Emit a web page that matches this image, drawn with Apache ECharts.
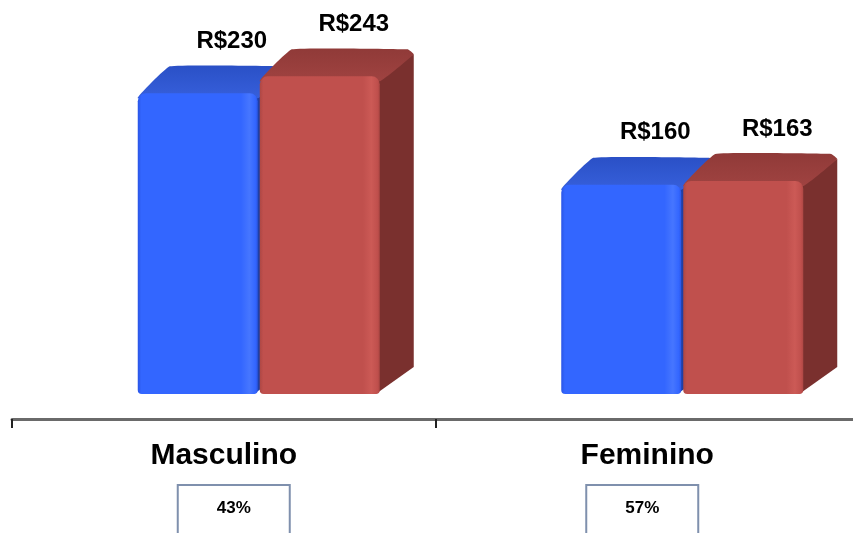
<!DOCTYPE html>
<html>
<head>
<meta charset="utf-8">
<script src="https://cdn.jsdelivr.net/npm/echarts@6/dist/echarts.min.js"></script>
<style>
  html, body { margin: 0; padding: 0; background: #ffffff; overflow: hidden; }
  /* canvas runs a little past the right edge so the axis continues off-page */
  #chart { width: 866px; height: 533px; }
</style>
</head>
<body>
<div id="chart"></div>
<script>
// Gasto médio por sexo
const categories = ['Masculino', 'Feminino'];
const seriesBlue = [230, 160];
const seriesRed = [243, 163];
const shares = ['43%', '57%'];

// 3D bar geometry (pixels)
const DEPTH_X = 34;
const DEPTH_Y = -27;
const FRONT_W = 120;
const barOffsets = [-86, 36];      // left edge of each series' front face, from category centre
const boxNudge = [10, -5];         // horizontal nudge of the share boxes

const palettes = [
  { front: '#3366ff', edgeDark: '#2a55e6', edgeLight: '#4676ff', top: '#2a50c6', topLight: '#3760dc', side: '#1f3fa6' },
  { front: '#c0504d', edgeDark: '#ad4744', edgeLight: '#cc5a56', top: '#903a38', topLight: '#a04341', side: '#7a302e' }
];

function bar3d(seriesIdx) {
  const pal = palettes[seriesIdx];
  return function (params, api) {
    const i = api.value(0);
    const v = api.value(1);
    const topPt = api.coord([i, v]);
    const basePt = api.coord([i, 0]);
    const x0 = topPt[0] + barOffsets[seriesIdx];
    const x1 = x0 + FRONT_W;
    const yT = topPt[1];
    const yB = basePt[1];
    const frontFill = new echarts.graphic.LinearGradient(0, 0, 1, 0, [
      { offset: 0, color: pal.edgeDark },
      { offset: 0.03, color: pal.front },
      { offset: 0.86, color: pal.front },
      { offset: 0.93, color: pal.edgeLight },
      { offset: 0.98, color: pal.front },
      { offset: 1, color: pal.edgeDark }
    ]);
    const topFill = new echarts.graphic.LinearGradient(0, 1, 0, 0, [
      { offset: 0, color: pal.topLight },
      { offset: 1, color: pal.top }
    ]);
    return {
      type: 'group',
      children: [
        {
          type: 'polygon',
          shape: { points: [[x1 - 4, yT], [x1 + DEPTH_X, yT + DEPTH_Y + 5], [x1 + DEPTH_X, yB + DEPTH_Y], [x1 - 4, yB]] },
          style: { fill: pal.side }
        },
        {
          type: 'polygon',
          shape: { points: [[x0, yT + 5], [x0 + DEPTH_X - 2, yT + DEPTH_Y], [x1 + DEPTH_X - 6, yT + DEPTH_Y], [x1 + DEPTH_X, yT + DEPTH_Y + 5], [x1, yT + 5]], smooth: 0.08 },
          style: { fill: topFill }
        },
        {
          type: 'rect',
          shape: { x: x0, y: yT, width: FRONT_W, height: yB - yT, r: [8, 8, 4, 4] },
          style: { fill: frontFill }
        },
        {
          type: 'text',
          x: x0 + FRONT_W / 2 + DEPTH_X,
          y: yT + DEPTH_Y - 13,
          style: {
            text: 'R$' + v,
            fill: '#000000',
            font: 'bold 24px "Liberation Sans", Arial, sans-serif',
            align: 'center',
            verticalAlign: 'bottom'
          }
        }
      ]
    };
  };
}

function shareBox(params, api) {
  const i = api.value(0);
  const basePt = api.coord([i, 0]);
  const cx = basePt[0] + boxNudge[i];
  const top = basePt[1] + 91;
  return {
    type: 'group',
    children: [
      {
        type: 'rect',
        shape: { x: cx - 56, y: top, width: 112, height: 70 },
        style: { fill: '#ffffff', stroke: '#7f90ad', lineWidth: 2 }
      },
      {
        type: 'text',
        x: cx,
        y: top + 23,
        style: {
          text: shares[i],
          fill: '#000000',
          font: 'bold 17px "Liberation Sans", Arial, sans-serif',
          align: 'center',
          verticalAlign: 'middle'
        }
      }
    ]
  };
}

const chart = echarts.init(document.getElementById('chart'), null, { renderer: 'canvas' });
chart.setOption({
  animation: false,
  backgroundColor: '#ffffff',
  grid: { left: 12, right: 7, top: 28, bottom: 139, containLabel: false },
  xAxis: {
    type: 'category',
    data: categories,
    boundaryGap: true,
    offset: 25,
    axisLine: { show: true, onZero: false, lineStyle: { color: '#6a6a6a', width: 3 } },
    axisTick: { show: true, length: 9, lineStyle: { color: '#222222', width: 2 } },
    axisLabel: {
      margin: 22,
      color: '#000000',
      fontSize: 30,
      fontWeight: 'bold',
      fontFamily: '"Liberation Sans", Arial, sans-serif'
    }
  },
  yAxis: { type: 'value', min: 0, max: 280, show: false, splitLine: { show: false } },
  series: [
    { type: 'custom', renderItem: bar3d(0), data: seriesBlue.map((v, i) => [i, v]), clip: false, z: 2 },
    { type: 'custom', renderItem: bar3d(1), data: seriesRed.map((v, i) => [i, v]), clip: false, z: 3 },
    { type: 'custom', renderItem: shareBox, data: shares.map((s, i) => [i, 0]), clip: false, z: 4 }
  ]
});
</script>
</body>
</html>
